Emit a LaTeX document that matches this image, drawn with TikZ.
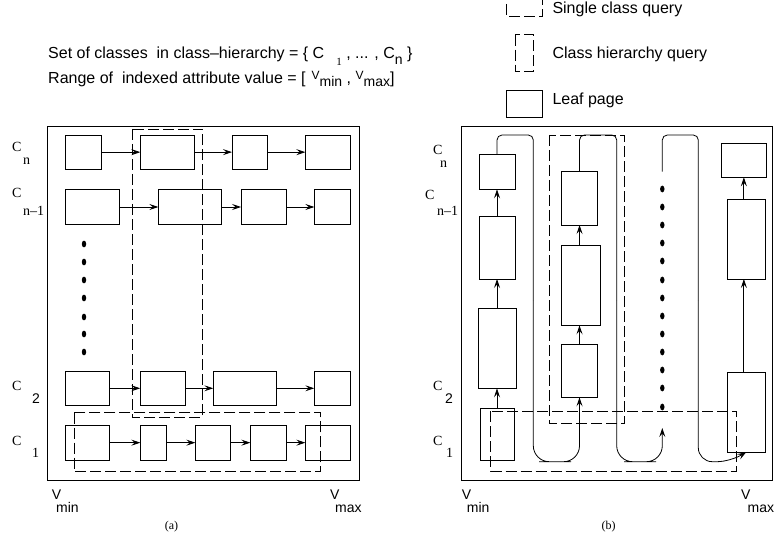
\documentclass[tikz,border=0pt]{standalone}
\usepackage{fontspec}
\setmainfont{Liberation Serif}
\newfontfamily\sansf{Liberation Sans}
\usetikzlibrary{arrows.meta}
\newcommand{\lbox}[5]{\node[leaf,minimum width={#4-#2},minimum height={#5-#3}] (#1) at ({(#2+#4)/2},{(#3+#5)/2}) {};}
\begin{document}
\begin{tikzpicture}[x=1pt,y=-1pt,
  leaf/.style={draw,line width=0.9pt,inner sep=0pt,outer sep=0pt},
  dbox/.style={draw,line width=0.9pt,dash pattern=on 11pt off 4pt},
  frame/.style={draw,line width=0.9pt},
  arr/.style={line width=0.8pt,-{Stealth[length=9pt,width=6pt,inset=3.5pt]}},
  link/.style={line width=0.8pt},
  lab/.style={inner sep=0pt,anchor=base west,font=\fontsize{14}{14}\selectfont},
  slab/.style={inner sep=0pt,anchor=base west,font=\sansf\fontsize{14}{14}\selectfont},
  stxt/.style={inner sep=0pt,anchor=base west,font=\sansf\fontsize{16}{16}\selectfont},
  captext/.style={inner sep=0pt,font=\fontsize{12}{12}\selectfont},
  dotf/.style={fill=black}]
\useasboundingbox (0,0) rectangle (775,537);

% ---------- title ----------
\node[stxt] (t1) at (48,58.3) {Set of classes\ \ in class–hierarchy = \{ C\hspace{12pt}\raisebox{-7pt}{\rmfamily\fontsize{11}{11}\selectfont 1} , ... , C\raisebox{-6pt}{\fontsize{14}{14}\selectfont n} \}};
\node[stxt] (t2) at (48,83.3) {Range of\ \ indexed attribute value = [\hspace{6pt}\raisebox{4pt}{\fontsize{12}{12}\selectfont V}\raisebox{-3pt}{\fontsize{14}{14}\selectfont min} , \raisebox{4pt}{\fontsize{12}{12}\selectfont V}\raisebox{-3pt}{\fontsize{14}{14}\selectfont max}]};

% ---------- legend ----------
\draw[dbox] (506.7,4) -- (506.7,16.7) -- (542,16.7) -- (542,0);
\node[stxt] (lg1) at (552.3,14) {Single class query};
\draw[dbox] (515.3,34.7) rectangle (533.7,71);
\node[stxt] (lg2) at (552.3,58.3) {Class hierarchy query};
\lbox{lgleaf}{506.7}{90}{542.3}{117.3}
\node[stxt] (lg3) at (552.3,105) {Leaf page};

% ---------- panel (a) ----------
\draw[frame] (47.7,126) rectangle (359.3,480);
\lbox{ln1}{65}{135}{101.7}{169.3}
\lbox{ln2}{140.3}{135}{194.3}{169.3}
\lbox{ln3}{232}{135}{267.3}{169.3}
\lbox{ln4}{305.3}{135}{350.3}{169.3}
\lbox{lm1}{65.3}{189.3}{119.3}{224.7}
\lbox{lm2}{158.3}{189.3}{221.3}{224.7}
\lbox{lm3}{241}{189.3}{286.3}{224.7}
\lbox{lm4}{314.3}{189.3}{350.3}{224.7}
\lbox{lb1}{65.3}{371.3}{109.3}{405.3}
\lbox{lb2}{140.3}{371.3}{185.3}{405.3}
\lbox{lb3}{213.3}{371.3}{276.3}{405.3}
\lbox{lb4}{314.3}{371.3}{350.3}{405.3}
\lbox{la1}{65.3}{425}{109.3}{460.3}
\lbox{la2}{140.3}{425}{166.7}{460.3}
\lbox{la3}{195.3}{425}{230.3}{460.3}
\lbox{la4}{250.3}{425}{286}{460.3}
\lbox{la5}{305.3}{425}{350.3}{460.3}
\draw[arr] (ln1.east) -- (ln2.west);
\draw[arr] (ln2.east) -- (ln3.west);
\draw[arr] (ln3.east) -- (ln4.west);
\draw[arr] (lm1.east) -- (lm2.west);
\draw[arr] (lm2.east) -- (lm3.west);
\draw[arr] (lm3.east) -- (lm4.west);
\draw[arr] (lb1.east) -- (lb2.west);
\draw[arr] (lb2.east) -- (lb3.west);
\draw[arr] (lb3.east) -- (lb4.west);
\draw[arr] (la1.east) -- (la2.west);
\draw[arr] (la2.east) -- (la3.west);
\draw[arr] (la3.east) -- (la4.west);
\draw[arr] (la4.east) -- (la5.west);
\draw[dbox] (132.7,129) rectangle (202.3,417.3);
\draw[dbox] (74,412.7) rectangle (320.7,471.7);
\foreach \yy in {244,262,280,298,317,334,352}
  \fill[dotf] (84,\yy) ellipse [x radius=2.2, y radius=3.4];
% labels (a)
\node[lab] (acn) at (12,152) {C};
\node[lab] (acns) at (23,165) {n};
\node[lab] (acm) at (12,198) {C};
\node[lab] (acms) at (23,215) {n–1};
\node[lab] (ac2) at (12,390) {C};
\node[slab] (ac2s) at (32,403) {2};
\node[lab] (ac1) at (12,445) {C};
\node[lab] (ac1s) at (32,457) {1};
\node[slab] (avmin) at (51.7,499) {V};
\node[slab] (avmins) at (56,512) {min};
\node[slab] (avmax) at (330,499) {V};
\node[slab] (avmaxs) at (335,512) {max};
\node[captext] (capa) at (171.5,527) {(a)};

% ---------- panel (b) ----------
\draw[frame] (461,126) rectangle (772.7,480);
\lbox{r1a}{479}{154}{515}{189.3}
\lbox{r1b}{479}{216}{515}{279}
\lbox{r1c}{478}{308.3}{516}{388.3}
\lbox{r1d}{480}{408.3}{514}{460.3}
\lbox{r2a}{561.3}{171}{597.7}{225}
\lbox{r2b}{561.3}{245}{600.3}{325.3}
\lbox{r2c}{561.3}{344.3}{597.3}{397.3}
\lbox{r4a}{721}{143.3}{766.7}{177.3}
\lbox{r4b}{727.3}{199}{765.3}{279}
\lbox{r4c}{727.3}{372.3}{765.3}{452}
\draw[arr] (r1b.north) -- (r1a.south);
\draw[arr] (r1c.north) -- (r1b.south);
\draw[arr] (r1d.north) -- (r1c.south);
\draw[arr] (r2a.south |- r2b.north) -- (r2a.south);
\draw[arr] (r2a.south |- r2c.north) -- (r2a.south |- r2b.south);
\draw[arr] (r4a.south |- r4b.north) -- (r4a.south);
\draw[arr] (r4a.south |- r4c.north) -- (r4a.south |- r4b.south);
\coordinate (j1) at (533.3,300);
\coordinate (j2) at (616.7,300);
\coordinate (j3) at (698.3,300);
\coordinate (d3top) at (662.3,171.7);
\coordinate (d3end) at (662.3,428);
\draw[link,rounded corners=5pt] (r1a.north) |- (533.3,135) -- (j1);
\draw[arr,rounded corners=16pt] (j1) |- (555,461.7) -| (r2a.south |- r2c.south);
\draw[link,rounded corners=5pt] (r2a.north) |- (616.7,135) -- (j2);
\draw[arr,rounded corners=16pt] (j2) |- (640,461.7) -| (d3end);
\draw[link,rounded corners=5pt] (d3top) |- (698.3,135) -- (j3);
\draw[arr,rounded corners=14pt] (j3) |- (731,461.7) -- (r4c.south);
\draw[dbox] (549.3,135) rectangle (624.3,423.3);
\draw[dbox] (490.7,411) rectangle (736.7,471);
\foreach \yy in {189,207,225,243,261,280,298,316,334,352,370,388,407}
  \fill[dotf] (662.3,\yy) ellipse [x radius=2.2, y radius=3.4];
% labels (b)
\node[lab] (bcn) at (433,155) {C};
\node[lab] (bcns) at (440,168) {n};
\node[lab] (bcm) at (425,200) {C};
\node[lab] (bcms) at (437,215) {n–1};
\node[lab] (bc2) at (433,390) {C};
\node[slab] (bc2s) at (445,403) {2};
\node[lab] (bc1) at (433,445) {C};
\node[lab] (bc1s) at (446,457) {1};
\node[slab] (bvmin) at (461.7,499) {V};
\node[slab] (bvmins) at (466.7,512) {min};
\node[slab] (bvmax) at (741,499) {V};
\node[slab] (bvmaxs) at (747.5,512) {max};
\node[captext] (capb) at (608.5,527) {(b)};
\end{tikzpicture}
\end{document}
